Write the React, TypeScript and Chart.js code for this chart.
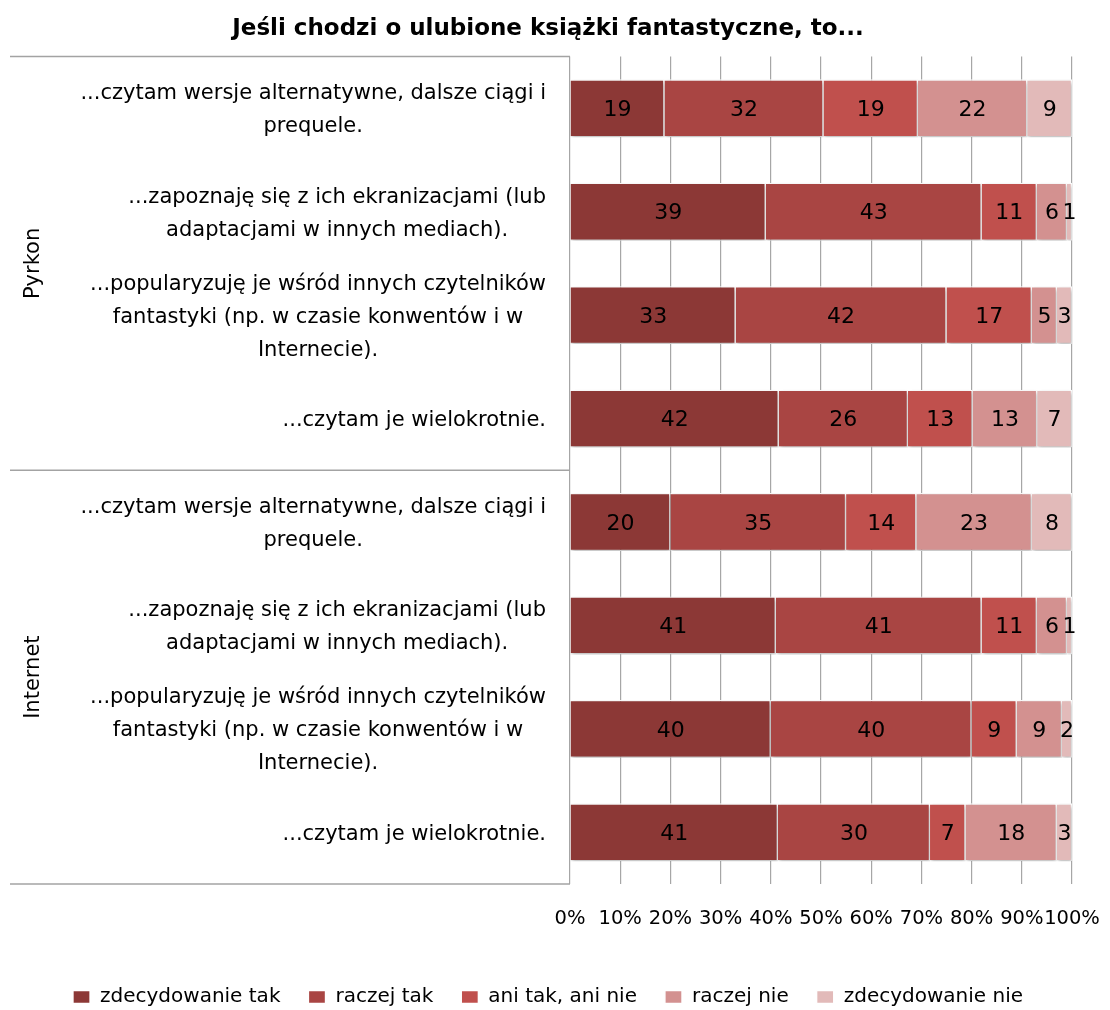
import React, { useEffect, useRef } from "react";
import { Chart, registerables } from "chart.js";

Chart.register(...registerables);

const chartTitle = "Jeśli chodzi o ulubione książki fantastyczne, to...";

const groups = ["Pyrkon", "Internet"];
const groupSizes = [4, 4];

const categoryLines: string[][] = [
  ["...czytam wersje alternatywne, dalsze ciągi i", "prequele."],
  ["...zapoznaję się z ich ekranizacjami (lub", "adaptacjami w innych mediach)."],
  ["...popularyzuję je wśród innych czytelników", "fantastyki (np. w czasie konwentów i w", "Internecie)."],
  ["...czytam je wielokrotnie."],
  ["...czytam wersje alternatywne, dalsze ciągi i", "prequele."],
  ["...zapoznaję się z ich ekranizacjami (lub", "adaptacjami w innych mediach)."],
  ["...popularyzuję je wśród innych czytelników", "fantastyki (np. w czasie konwentów i w", "Internecie)."],
  ["...czytam je wielokrotnie."],
];

const seriesNames = ["zdecydowanie tak", "raczej tak", "ani tak, ani nie", "raczej nie", "zdecydowanie nie"];

const zdecydowanieTak = [19, 39, 33, 42, 20, 41, 40, 41];
const raczejTak = [32, 43, 42, 26, 35, 41, 40, 30];
const aniTakAniNie = [19, 11, 17, 13, 14, 11, 9, 7];
const raczejNie = [22, 6, 5, 13, 23, 6, 9, 18];
const zdecydowanieNie = [9, 1, 3, 7, 8, 1, 2, 3];

const seriesValues = [zdecydowanieTak, raczejTak, aniTakAniNie, raczejNie, zdecydowanieNie];
const seriesColors = ["#8C3836", "#A94543", "#C0504D", "#D39190", "#E2BAB9"];

const FONT = "'DejaVu Sans', sans-serif";

const totals = categoryLines.map((_, i) => seriesValues.reduce((s, arr) => s + arr[i], 0));

const shadowPlugin = {
  id: "barShadow",
  beforeDatasetsDraw(chart: any) {
    const ctx = chart.ctx;
    ctx.save();
    ctx.shadowColor = "rgba(0,0,0,0.28)";
    ctx.shadowBlur = 4;
    ctx.shadowOffsetX = 1;
    ctx.shadowOffsetY = 2;
  },
  afterDatasetsDraw(chart: any) {
    chart.ctx.restore();
    const ctx = chart.ctx;
    ctx.save();
    ctx.font = `22px ${FONT}`;
    ctx.fillStyle = "#000";
    ctx.textAlign = "center";
    ctx.textBaseline = "middle";
    chart.data.datasets.forEach((ds: any, di: number) => {
      const meta = chart.getDatasetMeta(di);
      meta.data.forEach((el: any, i: number) => {
        const c = el.getCenterPoint();
        ctx.fillText(String(ds.raw[i]), c.x, c.y + 2);
      });
    });
    ctx.restore();
  },
};

const tablePlugin = {
  id: "leftTable",
  afterDraw(chart: any) {
    const { ctx, chartArea } = chart;
    const y = chart.scales.y;
    const py = (i: number) => y.getPixelForValue(i);
    ctx.save();
    ctx.strokeStyle = "#a3a3a3";
    ctx.lineWidth = 1.5;
    const lineLeft = 10;
    const seps: number[] = [chartArea.top];
    let acc = 0;
    groupSizes.forEach((n, gi) => {
      acc += n;
      if (gi < groupSizes.length - 1) seps.push((py(acc - 1) + py(acc)) / 2);
    });
    seps.push(chartArea.bottom);
    seps.forEach((yy) => {
      ctx.beginPath();
      ctx.moveTo(lineLeft, yy);
      ctx.lineTo(chartArea.left, yy);
      ctx.stroke();
    });

    ctx.fillStyle = "#000";
    ctx.textAlign = "center";
    ctx.textBaseline = "middle";
    ctx.font = `21px ${FONT}`;
    const lh = 33;
    categoryLines.forEach((lines, i) => {
      const w = Math.max(...lines.map((l) => ctx.measureText(l).width));
      const cx = chartArea.left - 24 - w / 2;
      const cy = py(i) + 2;
      lines.forEach((l, k) => {
        ctx.fillText(l, cx, cy + (k - (lines.length - 1) / 2) * lh);
      });
    });

    ctx.font = `21px ${FONT}`;
    let start = 0;
    groups.forEach((g, gi) => {
      const n = groupSizes[gi];
      const cy = (py(start) + py(start + n - 1)) / 2;
      start += n;
      ctx.save();
      ctx.translate(34, cy);
      ctx.rotate(-Math.PI / 2);
      ctx.fillText(g, 0, 0);
      ctx.restore();
    });
    ctx.restore();
  },
};

export default function App() {
  const ref = useRef<HTMLCanvasElement | null>(null);

  useEffect(() => {
    if (!ref.current) return;
    const chart = new Chart(ref.current, {
      type: "bar",
      data: {
        labels: categoryLines.map((l) => l.join(" ")),
        datasets: seriesNames.map((name, si) => ({
          label: name,
          data: seriesValues[si].map((v, i) => (v / totals[i]) * 100),
          raw: seriesValues[si],
          backgroundColor: seriesColors[si],
          borderColor: "#ffffff",
          borderWidth: 1.3,
          barPercentage: 0.56,
          categoryPercentage: 1,
        })) as any,
      },
      options: {
        indexAxis: "y",
        responsive: false,
        animation: false,
        devicePixelRatio: 1,
        layout: { padding: { left: 24, right: 38, top: 0, bottom: -7 } },
        plugins: {
          title: {
            display: true,
            text: chartTitle,
            color: "#000",
            font: { family: FONT, size: 23, weight: "bold" },
            padding: { top: 15, bottom: 14 },
          },
          legend: {
            position: "bottom",
            labels: {
              boxWidth: 17,
              boxHeight: 13,
              padding: 28,
              color: "#000",
              font: { family: FONT, size: 20 },
            },
          },
          tooltip: { enabled: false },
        },
        scales: {
          x: {
            stacked: true,
            min: 0,
            max: 100,
            grid: { color: "#a6a6a6", drawTicks: false, lineWidth: 1.2 },
            border: { display: false },
            ticks: {
              stepSize: 10,
              autoSkip: false,
              maxRotation: 0,
              padding: 23,
              color: "#000",
              font: { family: FONT, size: 19.5 },
              callback: (v: any) => `${v}%`,
            },
            afterFit: (s: any) => {
              s.height = 75;
              s.paddingLeft = 0;
              s.paddingRight = 0;
            },
          },
          y: {
            stacked: true,
            grid: { display: false },
            border: { display: false },
            ticks: { display: false },
            afterFit: (s: any) => {
              s.width = 546;
            },
          },
        },
      },
      plugins: [shadowPlugin, tablePlugin],
    });
    return () => chart.destroy();
  }, []);

  return (
    <div style={{ position: "absolute", left: 0, top: 0, width: 1110, height: 1010, background: "#fff" }}>
      <canvas ref={ref} width={1110} height={1010} style={{ display: "block" }} />
    </div>
  );
}
